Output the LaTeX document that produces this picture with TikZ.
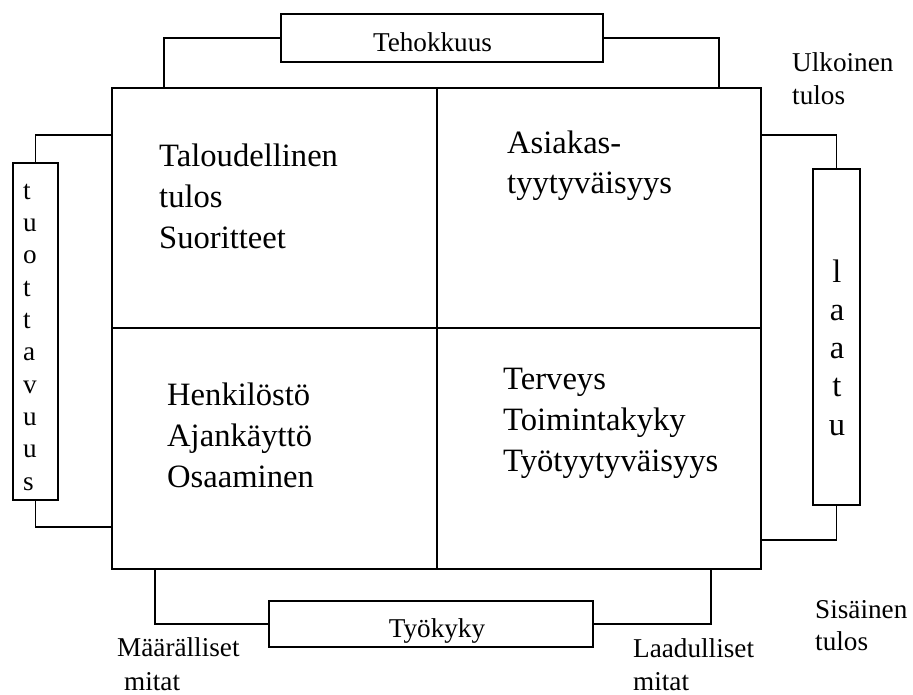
\documentclass[tikz,border=0pt]{standalone}
\usepackage{fontspec}
\setmainfont{Liberation Serif}
\begin{document}
\begin{tikzpicture}[x=1pt,y=-1pt,
  line/.style={draw=black,line width=1.8pt},
  quad/.style={draw=black,line width=1.9pt,inner sep=0pt,anchor=north west},
  tag/.style={draw=black,line width=1.9pt,inner sep=0pt,fill=white},
  bigtext/.style={font=\fontsize{32.6}{40.8}\selectfont,inner sep=0pt,align=left,anchor=base west},
  smalltext/.style={font=\fontsize{27.2}{33}\selectfont,inner sep=0pt,align=left,anchor=base west}]
\useasboundingbox (0,0) rectangle (913,695);

% the four quadrants of the central table
\node[quad,minimum width=325pt,minimum height=240pt] (q1) at (111,87) {};
\node[quad,minimum width=324pt,minimum height=240pt] (q2) at (436,87) {};
\node[quad,minimum width=325pt,minimum height=241pt] (q3) at (111,327) {};
\node[quad,minimum width=324pt,minimum height=241pt] (q4) at (436,327) {};

% points on the table frame where the brackets end
\coordinate (topL) at (164,87);
\coordinate (topR) at (719,87);
\coordinate (leftT) at (111,135);
\coordinate (leftB) at (111,527);
\coordinate (rightT) at (760,135);
\coordinate (rightB) at (760,540);
\coordinate (botL) at (155,568);
\coordinate (botR) at (711,568);

% side boxes
\node[tag,minimum width=322pt,minimum height=48pt] (teho) at (442,38) {};
\node[tag,minimum width=324pt,minimum height=46pt] (tyo) at (431,624) {};
\node[tag,minimum width=45pt,minimum height=337pt] (tuot) at (35.5,331.5) {};
\node[tag,minimum width=47pt,minimum height=336pt] (laatu) at (836.5,337) {};

% brackets joining the boxes to the table
\draw[line] (teho.west) -| (topL);
\draw[line] (teho.east) -| (topR);
\draw[line] (tuot.north) |- (leftT);
\draw[line] (tuot.south) |- (leftB);
\draw[line] (laatu.north) |- (rightT);
\draw[line] (laatu.south) |- (rightB);
\draw[line] (tyo.west) -| (botL);
\draw[line] (tyo.east) -| (botR);

% box labels (multi-line nodes are placed by the baseline of their last line)
\node[smalltext,anchor=base] (tehotxt) at (432.5,52) {Tehokkuus};
\node[smalltext,anchor=base] (tyotxt) at (437,637) {Työkyky};
\node[font=\fontsize{27.2}{32.3}\selectfont,inner sep=0pt,align=left,anchor=base west] (tuottxt) at (23,490)
  {t\\u\\o\\t\\t\\a\\v\\u\\u\\s};
\node[font=\fontsize{32.6}{38.25}\selectfont,inner sep=0pt,align=center,anchor=base] (laatutxt) at (837,435)
  {l\\a\\a\\t\\u};

% quadrant texts
\node[bigtext] (t1) at (159,248) {Taloudellinen\\tulos\\Suoritteet};
\node[bigtext] (t2) at (507,194) {Asiakas-\\tyytyväisyys};
\node[bigtext] (t3) at (167,487) {Henkilöstö\\Ajankäyttö\\Osaaminen};
\node[bigtext] (t4) at (503,471) {Terveys\\Toimintakyky\\Työtyytyväisyys};

% outer captions
\node[smalltext] (ulko) at (792,105) {Ulkoinen\\tulos};
\node[smalltext,font=\fontsize{27.2}{32}\selectfont] (sisa) at (815,650) {Sisäinen\\tulos};
\node[smalltext,font=\fontsize{27.2}{34}\selectfont] (maara) at (117,690) {Määrälliset\\\hspace*{7pt}mitat};
\node[smalltext,font=\fontsize{27.2}{33}\selectfont] (laadu) at (633,690) {Laadulliset\\mitat};
\end{tikzpicture}
\end{document}
